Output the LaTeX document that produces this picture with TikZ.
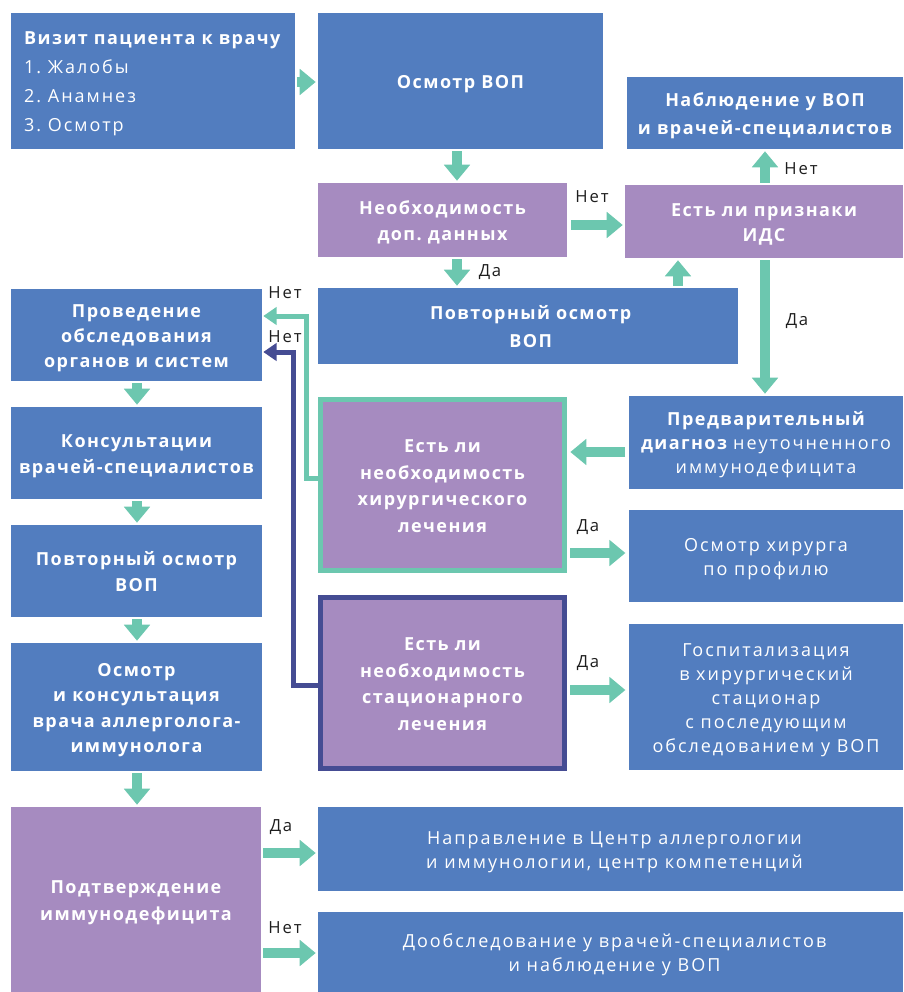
\documentclass[tikz,border=0pt]{standalone}
\usepackage{fontspec}
\setmainfont{Open Sans}[LetterSpace=11, BoldFeatures={LetterSpace=8}]
\usetikzlibrary{arrows.meta}
\frenchspacing
\newcommand\mytop{\rule{0pt}{14.7pt}}
\newcommand\mybot{\rule[-3.5pt]{0pt}{0pt}}
\definecolor{cblue}{HTML}{527DBF}
\definecolor{cpurp}{HTML}{A68BC0}
\definecolor{cteal}{HTML}{6CC7AF}
\definecolor{cdark}{HTML}{454C93}
\definecolor{ctext}{HTML}{1E1E1E}
\begin{document}
\begin{tikzpicture}[x=0.75pt,y=-0.75pt,
  box/.style={fill=cblue, text=white, font=\fontsize{13.5}{19}\selectfont\bfseries, align=center, inner sep=0pt},
  rbox/.style={box, font=\fontsize{13.5}{18}\selectfont},
  pbox/.style={box, fill=cpurp},
  sz/.style 2 args={minimum width=#1*0.75pt, minimum height=#2*0.75pt},
  flow/.style={draw=cteal, line width=7.5pt, -{Triangle[length=12pt,width=19pt]}, shorten <=1.5pt, shorten >=1.5pt},
  nline/.style={line width=3.75pt, -{Triangle[length=10pt,width=13pt]}, shorten >=0.75pt},
  lab/.style={text=ctext, font=\fontsize{12.5}{15}\selectfont, inner sep=0pt}]
\useasboundingbox (0,0) rectangle (903,992);
% boxes
\node[box, sz={284}{136}, align=left, font=\fontsize{13.5}{21.75}\selectfont] (v1) at (153,81)
  {\mytop\textbf{Визит пациента к врачу}\\1. Жалобы\\2. Анамнез\\3. Осмотр\mybot};
\node[box, sz={285}{136}] (v2) at (460.5,81) {\mytop Осмотр ВОП\mybot};
\node[box, sz={276}{72}, font=\fontsize{13.5}{20.5}\selectfont\bfseries] (v3) at (765,113) {\mytop Наблюдение у ВОП\\и врачей-специалистов\mybot};
\node[pbox, sz={249}{74}, font=\fontsize{13.5}{20}\selectfont\bfseries] (v4) at (442.5,220) {\mytop Необходимость\\доп. данных\mybot};
\node[pbox, sz={278}{73}] (v5) at (764,221.5) {\mytop Есть ли признаки\\ИДС\mybot};
\node[box, sz={420}{76}, font=\fontsize{13.5}{21}\selectfont\bfseries] (v6) at (528,326) {\mytop\hspace{4pt}Повторный осмотр\\\hspace{4pt}ВОП\mybot};
\node[box, sz={251}{92}] (v7) at (136.5,335) {\mytop Проведение\\обследования\\органов и систем\mybot};
\node[box, sz={251}{92}] (v8) at (136.5,453) {\mytop Консультации\\врачей-специалистов\mybot};
\node[box, sz={251}{92}] (v9) at (136.5,571) {\mytop Повторный осмотр\\ВОП\mybot};
\node[box, sz={251}{128}] (v10) at (136.5,707) {\mytop Осмотр\\и консультация\\врача аллерголога-\\иммунолога\mybot};
\node[pbox, sz={250}{185}, font=\fontsize{13.5}{20}\selectfont\bfseries] (v11) at (136,899.5) {\mytop Подтверждение\\иммунодефицита\mybot};
\node[pbox, draw=cteal, line width=3.75pt, sz={244}{171}, font=\fontsize{13.5}{20}\selectfont\bfseries] (v12) at (442.5,485) {\mytop Есть ли\\необходимость\\хирургического\\лечения\mybot};
\node[pbox, draw=cdark, line width=3.75pt, sz={244}{171}, font=\fontsize{13.5}{20}\selectfont\bfseries] (v13) at (442.5,683) {\mytop Есть ли\\необходимость\\стационарного\\лечения\mybot};
\node[box, sz={274}{93}, font=\fontsize{13.5}{18}\selectfont\bfseries] (v14) at (766,442.5) {\mytop Предварительный\\диагноз {\mdseries неуточненного}\\{\mdseries иммунодефицита}\mybot};
\node[rbox, sz={274}{92}] (v15) at (766,556) {\mytop Осмотр хирурга\\по профилю\mybot};
\node[rbox, sz={274}{146}] (v16) at (766,697) {\mytop Госпитализация\\в хирургический\\стационар\\с последующим\\обследованием у ВОП\mybot};
\node[rbox, sz={585}{84}] (v17) at (610.5,849) {\mytop\hspace{6pt}Направление в Центр аллергологии\\\hspace{6pt}и иммунологии, центр компетенций\mybot};
\node[rbox, sz={585}{80}] (v18) at (610.5,952) {\mytop\hspace{6pt}Дообследование у врачей-специалистов\\\hspace{6pt}и наблюдение у ВОП\mybot};
% helper coordinates
\coordinate (c457) at (457,0);
\coordinate (c678) at (678,0);
\coordinate (c765) at (765,0);
\coordinate (c137) at (137,0);
\coordinate (r82) at (0,82);
\coordinate (r225) at (0,225);
\coordinate (r452) at (0,452);
\coordinate (r553) at (0,553);
\coordinate (r690) at (0,690);
\coordinate (r853) at (0,853);
\coordinate (r953) at (0,953);
% flow arrows
\draw[flow] (v1.east |- r82) -- (v2.west |- r82);
\draw[flow] (v2.south -| c457) -- (v4.north -| c457);
\draw[flow, shorten <=3pt] (v4.east |- r225) -- (v5.west |- r225);
\draw[flow] (v4.south -| c457) -- (v6.north -| c457);
\draw[flow] (v6.north -| c678) -- (v5.south -| c678);
\draw[flow] (v5.north -| c765) -- (v3.south -| c765);
\draw[flow] (v5.south -| c765) -- (v14.north -| c765);
\draw[flow, shorten <=2.5pt, shorten >=2.5pt] (v14.west |- r452) -- (v12.east |- r452);
\draw[flow, shorten <=2.5pt, shorten >=2.5pt] (v12.east |- r553) -- (v15.west |- r553);
\draw[flow, shorten <=2.5pt, shorten >=2.5pt] (v13.east |- r690) -- (v16.west |- r690);
\draw[flow] (v7.south -| c137) -- (v8.north -| c137);
\draw[flow] (v8.south -| c137) -- (v9.north -| c137);
\draw[flow] (v9.south -| c137) -- (v10.north -| c137);
\draw[flow] (v10.south -| c137) -- (v11.north -| c137);
\draw[flow] (v11.east |- r853) -- (v17.west |- r853);
\draw[flow] (v11.east |- r953) -- (v18.west |- r953);
% "Нет" return lines
\coordinate (tb) at (306,478);
\coordinate (tt) at (306,316);
\coordinate (db) at (293,685);
\coordinate (dt) at (293,352);
\draw[nline, draw=cteal] (v12.west |- tb) -- (tb) -- (tt) -- (v7.east |- tt);
\draw[nline, draw=cdark] (v13.west |- db) -- (db) -- (dt) -- (v7.east |- dt);
% labels
\node[lab] (l1) at (592,197) {Нет};
\node[lab] (l2) at (490,272) {Да};
\node[lab] (l3) at (285,293) {Нет};
\node[lab] (l4) at (285,337) {Нет};
\node[lab] (l5) at (801,169) {Нет};
\node[lab] (l6) at (797,321) {Да};
\node[lab] (l7) at (588,527) {Да};
\node[lab] (l8) at (588,663) {Да};
\node[lab] (l9) at (281,827) {Да};
\node[lab] (l10) at (285,928) {Нет};
\end{tikzpicture}
\end{document}
